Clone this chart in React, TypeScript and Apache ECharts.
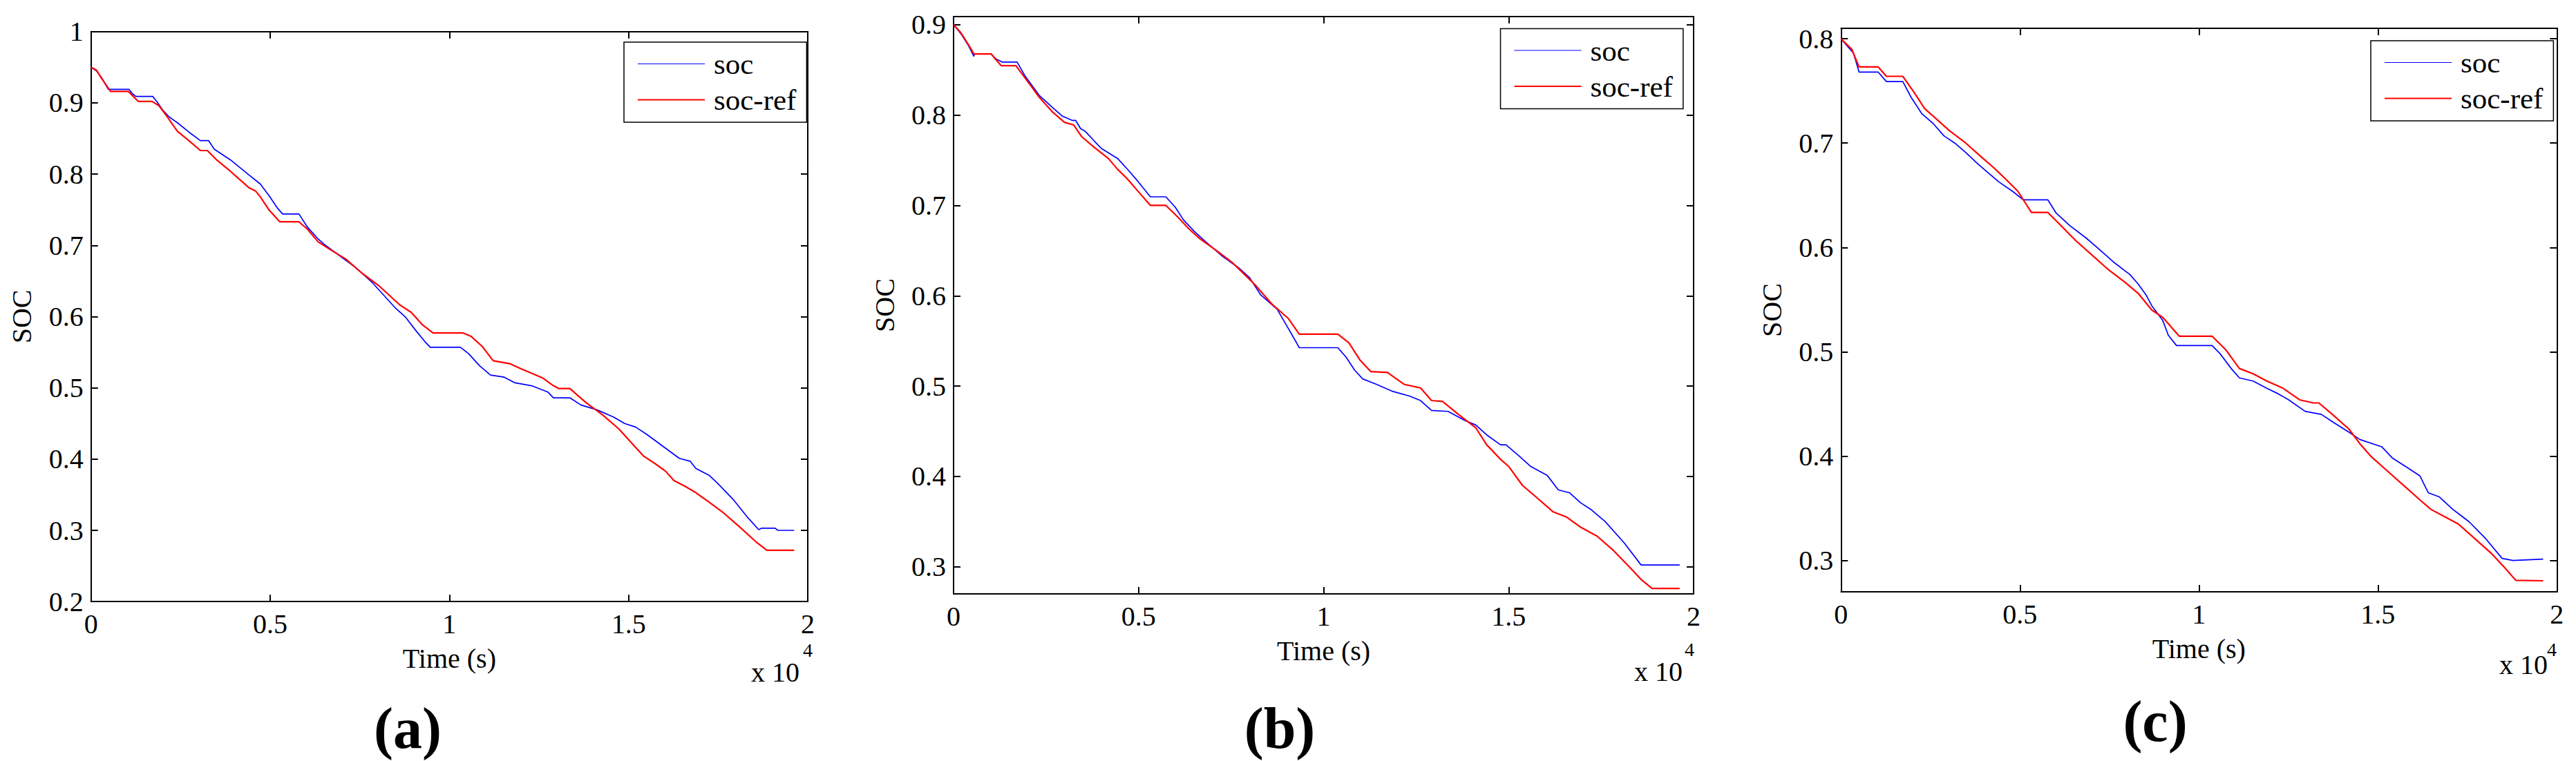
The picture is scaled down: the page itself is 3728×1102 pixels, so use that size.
import React, { useEffect, useRef } from "react";
import * as echarts from "echarts";

// ---------- data ----------
const seriesNames = ["soc", "soc-ref"];
const panelLabels = ["(a)", "(b)", "(c)"];
const xTicks = [0, 5000, 10000, 15000, 20000];
const yTicksA = [0.2, 0.3, 0.4, 0.5, 0.6, 0.7, 0.8, 0.9, 1.0];
const yTicksB = [0.3, 0.4, 0.5, 0.6, 0.7, 0.8, 0.9];
const yTicksC = [0.3, 0.4, 0.5, 0.6, 0.7, 0.8];
const xLabel = "Time (s)";
const yLabel = "SOC";
const xExponent = "4";

// panel (a)
const socA = [
  [0, 0.95], [150, 0.945], [300, 0.935], [482, 0.919], [1061, 0.919], [1150, 0.913], [1254, 0.909], [1722, 0.909],
  [1832, 0.902], [2000, 0.89], [2185, 0.88], [2411, 0.872], [2731, 0.859], [3053, 0.847], [3279, 0.847], [3439, 0.835],
  [3889, 0.82], [4403, 0.799], [4725, 0.786], [4963, 0.77], [5192, 0.753], [5345, 0.744], [5803, 0.744], [6032, 0.726],
  [6337, 0.709], [6490, 0.702], [6948, 0.685], [7406, 0.668], [7864, 0.647], [8169, 0.63], [8475, 0.613], [8780, 0.599],
  [9086, 0.579], [9315, 0.565], [9467, 0.557], [10307, 0.557], [10536, 0.548], [10842, 0.531], [11147, 0.518],
  [11529, 0.515], [11835, 0.507], [12293, 0.503], [12751, 0.494], [12904, 0.486], [13362, 0.486], [13668, 0.476],
  [14126, 0.469], [14584, 0.459], [14889, 0.45], [15195, 0.445], [15500, 0.435], [15958, 0.418], [16416, 0.401],
  [16721, 0.397], [16874, 0.387], [17256, 0.377], [17485, 0.366], [17943, 0.342], [18325, 0.318], [18631, 0.301],
  [18707, 0.303], [19089, 0.303], [19165, 0.3], [19622, 0.3],
];
const refA = [
  [0, 0.95], [150, 0.946], [300, 0.934], [546, 0.916], [1041, 0.916], [1200, 0.908], [1317, 0.902], [1703, 0.902],
  [1896, 0.896], [2089, 0.883], [2411, 0.86], [2731, 0.847], [3053, 0.833], [3247, 0.833], [3503, 0.82], [3889, 0.804],
  [4403, 0.781], [4596, 0.776], [4725, 0.768], [4963, 0.75], [5268, 0.733], [5803, 0.733], [6032, 0.723], [6337, 0.705],
  [6643, 0.695], [7101, 0.681], [7559, 0.661], [8017, 0.644], [8322, 0.63], [8627, 0.616], [8933, 0.606], [9238, 0.589],
  [9544, 0.577], [10384, 0.577], [10612, 0.572], [10918, 0.558], [11223, 0.538], [11682, 0.534], [11987, 0.527],
  [12598, 0.514], [12904, 0.503], [13056, 0.499], [13362, 0.499], [13820, 0.479], [14278, 0.462], [14736, 0.442],
  [15041, 0.425], [15423, 0.404], [15729, 0.394], [16034, 0.383], [16263, 0.37], [16569, 0.362], [16874, 0.353],
  [17180, 0.342], [17638, 0.325], [18096, 0.305], [18554, 0.284], [18860, 0.272], [19622, 0.272],
];

// panel (b)
const socB = [
  [0, 0.9], [200, 0.89], [400, 0.877], [549, 0.865], [560, 0.8676], [1017, 0.8676], [1150, 0.862], [1311, 0.8587],
  [1717, 0.8587], [1935, 0.843], [2310, 0.822], [2684, 0.808], [2934, 0.799], [3215, 0.794], [3300, 0.794], [3433, 0.785],
  [3558, 0.782], [3808, 0.771], [3995, 0.763], [4432, 0.752], [4744, 0.738], [4994, 0.726], [5319, 0.7095], [5737, 0.7095],
  [5990, 0.698], [6213, 0.684], [6511, 0.671], [6809, 0.66], [7256, 0.644], [7703, 0.631], [8001, 0.62], [8299, 0.601],
  [8746, 0.585], [9044, 0.564], [9268, 0.548], [9342, 0.5425], [10385, 0.5425], [10609, 0.532], [10832, 0.518],
  [11056, 0.508], [11428, 0.502], [11875, 0.494], [12322, 0.489], [12620, 0.484], [12918, 0.473], [13365, 0.472],
  [13812, 0.462], [14110, 0.457], [14408, 0.446], [14781, 0.435], [14930, 0.435], [15302, 0.422], [15600, 0.411],
  [16047, 0.401], [16345, 0.385], [16643, 0.382], [16941, 0.371], [17239, 0.363], [17612, 0.35], [18133, 0.326],
  [18580, 0.302], [19623, 0.302],
];
const refB = [
  [0, 0.9], [200, 0.891], [400, 0.878], [549, 0.8676], [1017, 0.8676], [1150, 0.861], [1292, 0.8546], [1685, 0.8546],
  [2060, 0.834], [2310, 0.82], [2684, 0.803], [2996, 0.792], [3246, 0.789], [3464, 0.776], [3808, 0.764], [4182, 0.752],
  [4432, 0.74], [4682, 0.73], [5021, 0.714], [5319, 0.7], [5737, 0.7], [6064, 0.687], [6362, 0.674], [6660, 0.663],
  [7107, 0.65], [7554, 0.636], [7852, 0.624], [8150, 0.612], [8597, 0.591], [9044, 0.575], [9342, 0.5575], [10385, 0.5575],
  [10683, 0.548], [10981, 0.529], [11279, 0.516], [11726, 0.515], [12173, 0.502], [12620, 0.498], [12918, 0.484],
  [13216, 0.483], [13663, 0.468], [14110, 0.454], [14408, 0.435], [14781, 0.419], [15004, 0.411], [15377, 0.39],
  [15749, 0.377], [16196, 0.361], [16569, 0.355], [16941, 0.344], [17388, 0.334], [17835, 0.318], [18282, 0.299],
  [18580, 0.286], [18878, 0.276], [19623, 0.276],
];

// panel (c)
const socC = [
  [0, 0.8], [352, 0.786], [505, 0.768], [1040, 0.768], [1269, 0.759], [1728, 0.759], [1957, 0.744], [2263, 0.728],
  [2569, 0.719], [2874, 0.707], [3180, 0.7], [3486, 0.691], [3792, 0.681], [4098, 0.672], [4403, 0.663], [4786, 0.654],
  [5092, 0.6456], [5780, 0.6456], [6009, 0.633], [6391, 0.621], [6850, 0.609], [7156, 0.6], [7614, 0.586], [8073, 0.574],
  [8302, 0.565], [8532, 0.554], [8685, 0.544], [8990, 0.53], [9143, 0.516], [9373, 0.506], [10367, 0.506], [10596, 0.498],
  [10902, 0.484], [11131, 0.475], [11513, 0.472], [11896, 0.465], [12201, 0.46], [12507, 0.454], [12966, 0.443],
  [13424, 0.44], [13730, 0.433], [14189, 0.423], [14495, 0.416], [15106, 0.409], [15412, 0.398], [15871, 0.388],
  [16177, 0.381], [16406, 0.365], [16712, 0.361], [17094, 0.349], [17553, 0.337], [18011, 0.321], [18470, 0.302],
  [18776, 0.3], [19617, 0.3014],
];
const refC = [
  [0, 0.8], [300, 0.79], [505, 0.773], [1040, 0.773], [1269, 0.764], [1728, 0.764], [2034, 0.749], [2339, 0.733],
  [2569, 0.726], [3027, 0.712], [3486, 0.7], [3945, 0.686], [4250, 0.677], [4556, 0.667], [4939, 0.654], [5321, 0.6335],
  [5780, 0.6335], [6085, 0.623], [6544, 0.607], [7003, 0.593], [7461, 0.579], [7920, 0.567], [8302, 0.556], [8685, 0.54],
  [8990, 0.533], [9296, 0.521], [9449, 0.515], [10367, 0.515], [10749, 0.502], [11131, 0.484], [11513, 0.479],
  [11896, 0.472], [12354, 0.465], [12813, 0.454], [13195, 0.451], [13350, 0.451], [13730, 0.44], [14189, 0.426],
  [14495, 0.412], [14800, 0.4], [15259, 0.386], [15718, 0.372], [16177, 0.358], [16482, 0.349], [16865, 0.342],
  [17247, 0.335], [17706, 0.321], [18164, 0.307], [18547, 0.293], [18853, 0.281], [19617, 0.2806],
];

// ---------- layout ----------
const FONT = "'Liberation Serif', 'Times New Roman', serif";
const panels = [
  {
    grid: { left: 131.7, top: 45.7, width: 1037.3, height: 825.5 },
    yMin: 0.2, yMax: 1.0, yTicks: yTicksA, soc: socA, ref: refA,
    legend: { left: 903, top: 61 },
    exp: { x: 1157, y: 973, sx: 1169, sy: 941 },
    label: { x: 590, y: 1054 },
  },
  {
    grid: { left: 1380, top: 24, width: 1071, height: 836 },
    yMin: 0.27, yMax: 0.909, yTicks: yTicksB, soc: socB, ref: refB,
    legend: { left: 2171.5, top: 41.5 },
    exp: { x: 2435, y: 972, sx: 2445, sy: 940 },
    label: { x: 1852, y: 1054 },
  },
  {
    grid: { left: 2664.3, top: 41, width: 1036, height: 816 },
    yMin: 0.27, yMax: 0.81, yTicks: yTicksC, soc: socC, ref: refC,
    legend: { left: 3431, top: 59 },
    exp: { x: 3687, y: 962, sx: 3693, sy: 940 },
    label: { x: 3119, y: 1044 },
  },
];

const fmtX = (v: number) => String(Math.round(v / 1000) / 10);
const fmtY = (v: number) => String(Math.round(v * 10) / 10);

// thin horizontal bars used as legend line samples (aspect ratio sets thickness)
const ICON_THIN = "path://M0,0 H100 V1 H0 Z";
const ICON_THICK = "path://M0,0 H50 V1 H0 Z";

function buildOption() {
  const grid: any[] = [];
  const xAxis: any[] = [];
  const yAxis: any[] = [];
  const series: any[] = [];
  const legend: any[] = [];
  const graphic: any[] = [];
  const axisLine = { show: true, onZero: false, lineStyle: { color: "#000", width: 2 } };
  const tick = { show: true, inside: true, length: 10, lineStyle: { color: "#000", width: 2 } };

  panels.forEach((p, i) => {
    grid.push({ ...p.grid, containLabel: false, show: false });
    xAxis.push({
      type: "value", gridIndex: i, position: "bottom", min: xTicks[0], max: xTicks[xTicks.length - 1], interval: 5000,
      axisLine, axisTick: tick, splitLine: { show: false },
      axisLabel: { show: true, margin: 12, formatter: fmtX, fontFamily: FONT, fontSize: 40, color: "#000" },
      name: xLabel, nameLocation: "middle", nameGap: 62,
      nameTextStyle: { fontFamily: FONT, fontSize: 40, color: "#000" },
    });
    xAxis.push({
      type: "value", gridIndex: i, position: "top", min: xTicks[0], max: xTicks[xTicks.length - 1], interval: 5000,
      axisLine, axisTick: tick, axisLabel: { show: false }, splitLine: { show: false },
    });
    yAxis.push({
      type: "value", gridIndex: i, position: "left", min: p.yMin, max: p.yMax,
      axisLine, splitLine: { show: false },
      axisTick: { ...tick, customValues: p.yTicks },
      axisLabel: {
        show: true, margin: 11, customValues: p.yTicks, formatter: fmtY,
        fontFamily: FONT, fontSize: 40, color: "#000",
      },
      name: yLabel, nameLocation: "middle", nameGap: 80,
      nameTextStyle: { fontFamily: FONT, fontSize: 40, color: "#000" },
    });
    yAxis.push({
      type: "value", gridIndex: i, position: "right", min: p.yMin, max: p.yMax,
      axisLine, splitLine: { show: false },
      axisTick: { ...tick, customValues: p.yTicks },
      axisLabel: { show: false },
    });
    series.push({
      name: seriesNames[0], type: "line", xAxisIndex: 2 * i, yAxisIndex: 2 * i,
      data: p.soc, symbol: "none", showSymbol: false,
      lineStyle: { color: "#0000ff", width: 1.7 }, itemStyle: { color: "#0000ff" },
    });
    series.push({
      name: seriesNames[1], type: "line", xAxisIndex: 2 * i, yAxisIndex: 2 * i,
      data: p.ref, symbol: "none", showSymbol: false,
      lineStyle: { color: "#ff0000", width: 2.2 }, itemStyle: { color: "#ff0000" },
    });
    legend.push({
      data: [
        { name: seriesNames[0], icon: ICON_THIN, itemStyle: { color: "#0000ff" } },
        { name: seriesNames[1], icon: ICON_THICK, itemStyle: { color: "#ff0000" } },
      ],
      left: p.legend.left, top: p.legend.top, orient: "vertical", symbolKeepAspect: true,
      selectedMode: false, backgroundColor: "#fff", borderColor: "#000", borderWidth: 1.5, borderRadius: 0,
      padding: [10, 15, 11, 20], itemGap: 9, itemWidth: 97, itemHeight: 14,
      textStyle: { fontFamily: FONT, fontSize: 43, color: "#000", padding: [0, 0, 0, 8] },
    });
    graphic.push({
      type: "text", x: p.exp.x, y: p.exp.y,
      style: {
        text: "x 10", fontFamily: FONT, fontSize: 40, fill: "#000",
        align: "right", verticalAlign: "middle", textAlign: "right", textVerticalAlign: "middle",
      },
    });
    graphic.push({
      type: "text", x: p.exp.sx, y: p.exp.sy,
      style: {
        text: xExponent, fontFamily: FONT, fontSize: 28, fill: "#000",
        align: "center", verticalAlign: "middle", textAlign: "center", textVerticalAlign: "middle",
      },
    });
    graphic.push({
      type: "text", x: p.label.x, y: p.label.y,
      style: {
        text: panelLabels[i], fontFamily: FONT, fontSize: 84, fontWeight: "bold", fill: "#000",
        align: "center", verticalAlign: "middle", textAlign: "center", textVerticalAlign: "middle",
      },
    });
  });

  return {
    animation: false,
    backgroundColor: "#fff",
    grid, xAxis, yAxis, series, legend, graphic,
  };
}

export default function App() {
  const ref = useRef<HTMLDivElement>(null);
  useEffect(() => {
    if (!ref.current) return;
    const chart = echarts.init(ref.current, undefined, { renderer: "svg" });
    chart.setOption(buildOption() as any);
    return () => chart.dispose();
  }, []);
  return (
    <div
      ref={ref}
      style={{ position: "absolute", left: 0, top: 0, width: 3728, height: 1102, background: "#fff" }}
    />
  );
}
